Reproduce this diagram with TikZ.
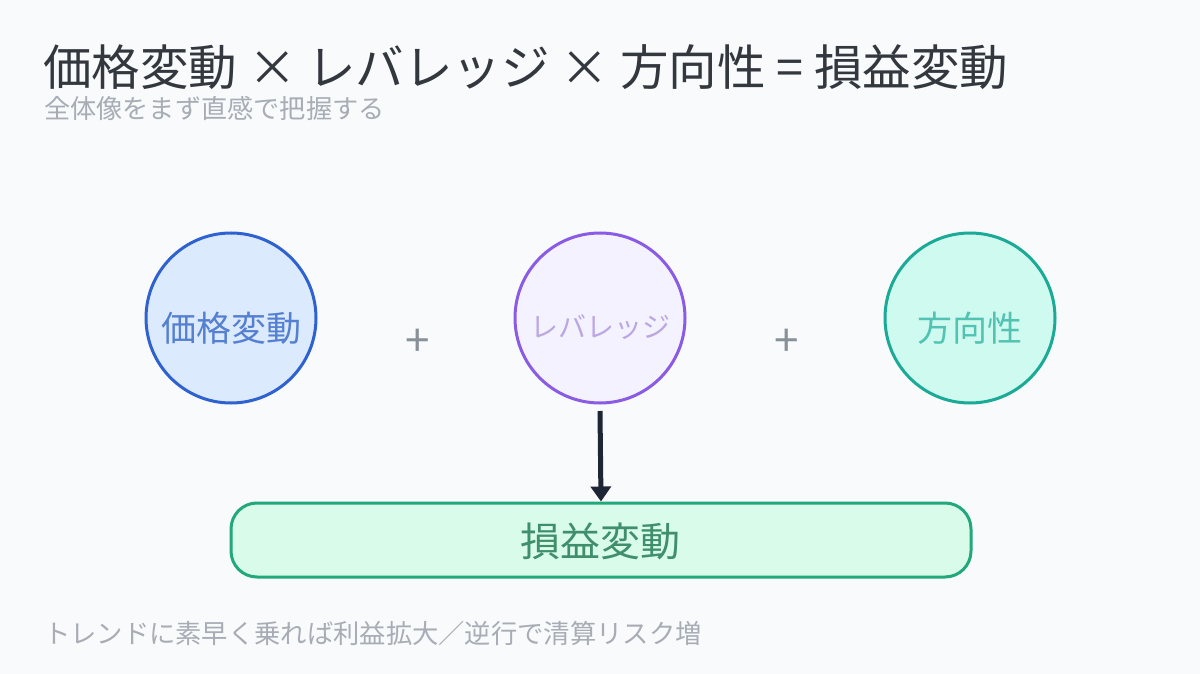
\documentclass[tikz,border=0pt]{standalone}
\usepackage{fontspec}
\setmainfont{Noto Sans CJK JP}
\newfontfamily\jp{Noto Sans CJK JP}
\usetikzlibrary{arrows.meta}
\definecolor{bg}{HTML}{F8FAFC}
\definecolor{titlec}{HTML}{33373E}
\definecolor{subc}{HTML}{A8ADB5}
\definecolor{blueS}{HTML}{2F62D0}
\definecolor{blueF}{HTML}{DCEAFE}
\definecolor{blueT}{HTML}{5580D2}
\definecolor{purS}{HTML}{8A5CE6}
\definecolor{purF}{HTML}{F5F2FF}
\definecolor{purT}{HTML}{BBA8E2}
\definecolor{tealS}{HTML}{1AAA96}
\definecolor{tealF}{HTML}{CFFAF0}
\definecolor{tealT}{HTML}{52C3B3}
\definecolor{grnS}{HTML}{22A87A}
\definecolor{grnF}{HTML}{D9FBEA}
\definecolor{grnT}{HTML}{3F8E6C}
\definecolor{arrowc}{HTML}{1E2535}
\definecolor{plusc}{HTML}{8A9099}
\tikzset{
  factor/.style={circle, line width=3pt, minimum size=170pt, inner sep=0pt},
  plussign/.style={text=plusc, font=\jp\fontsize{44}{44}\selectfont, inner sep=0pt},
}
\begin{document}
\begin{tikzpicture}[x=1pt,y=-1pt]
\fill[bg] (0,0) rectangle (1200,674);
\useasboundingbox (0,0) rectangle (1200,674);
\node[anchor=base west, inner sep=0pt, text=titlec, font=\jp\fontsize{48.5}{48.5}\selectfont] (title) at (43,86) {価格変動 × レバレッジ × 方向性 = 損益変動};
\node[anchor=base west, inner sep=0pt, text=subc, font=\jp\fontsize{26.2}{26.2}\selectfont] (sub) at (44,119) {全体像をまず直感で把握する};
\node[factor, draw=blueS, fill=blueF] (c1) at (231,318) {};
\node[text=blueT, font=\jp\fontsize{35}{35}\selectfont] (t1) at (231,328) {価格変動};
\node[factor, draw=purS, fill=purF] (c2) at (600,318) {};
\node[text=purT, font=\jp\fontsize{28}{28}\selectfont] (t2) at (600,327) {レバレッジ};
\node[factor, draw=tealS, fill=tealF] (c3) at (970,318) {};
\node[text=tealT, font=\jp\fontsize{35}{35}\selectfont] (t3) at (970,328) {方向性};
\node[plussign] (p1) at (418,343) {+};
\node[plussign] (p2) at (787,343) {+};
\node[draw=grnS, fill=grnF, line width=3pt, rounded corners=26pt, minimum width=740pt, minimum height=74pt, inner sep=0pt] (res) at (601,540) {};
\node[text=grnT, font=\jp\fontsize{40}{40}\selectfont] (rt) at (600,541) {損益変動};
\coordinate (as) at (600,411);
\draw[arrowc, line width=5pt, -{Triangle[length=15pt,width=20pt]}] (as) -- (res.north);
\node[anchor=base west, inner sep=0pt, text=subc, font=\jp\fontsize{26.3}{26.3}\selectfont] (foot) at (44,643) {トレンドに素早く乗れば利益拡大／逆行で清算リスク増};
\end{tikzpicture}
\end{document}
